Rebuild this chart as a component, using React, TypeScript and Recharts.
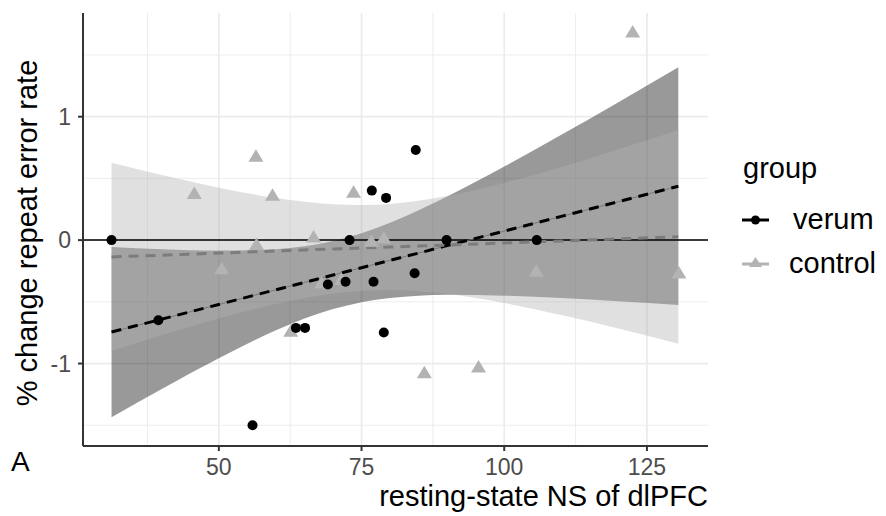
import React from 'react';
import { ComposedChart, Area, Line, Scatter, XAxis, YAxis, CartesianGrid, ReferenceLine } from 'recharts';

// Observed points
const verumX = [31.2, 39.4, 55.9, 63.5, 65.1, 72.9, 69.1, 72.2, 77.1, 84.3, 78.9, 89.9, 84.5, 76.8, 79.3, 105.7];
const verumY = [0, -0.649, -1.5, -0.711, -0.711, 0, -0.36, -0.338, -0.338, -0.269, -0.749, 0, 0.73, 0.401, 0.342, 0];

const controlX = [56.5, 45.7, 59.4, 73.6, 122.5, 56.6, 50.5, 62.6, 66.6, 76.7, 78.9, 86.0, 95.5, 105.6, 130.6, 68.0, 71.5];
const controlY = [0.679, 0.377, 0.363, 0.387, 1.686, -0.036, -0.233, -0.738, 0.026, -0.01, 0.018, -1.075, -1.027, -0.253, -0.266, -0.347, -0.32];

// Smoother (linear fit + confidence band)
const bandX = [31.2, 40, 50, 60, 65, 70, 75, 80, 85, 90, 100, 110, 120, 130.5];
const verumFit = [-0.745, -0.64, -0.521, -0.402, -0.343, -0.283, -0.224, -0.164, -0.105, -0.045, 0.073, 0.192, 0.311, 0.437];
const verumUpper = [-0.055, -0.074, -0.085, -0.073, -0.05, -0.008, 0.056, 0.14, 0.241, 0.353, 0.596, 0.853, 1.117, 1.4];
const verumLower = [-1.435, -1.206, -0.957, -0.731, -0.636, -0.559, -0.503, -0.468, -0.45, -0.443, -0.45, -0.469, -0.495, -0.526];
const controlFit = [-0.136, -0.122, -0.105, -0.088, -0.08, -0.072, -0.064, -0.056, -0.048, -0.04, -0.023, -0.007, 0.01, 0.027];
const controlUpper = [0.627, 0.527, 0.425, 0.341, 0.31, 0.29, 0.284, 0.293, 0.318, 0.357, 0.463, 0.593, 0.736, 0.893];
const controlLower = [-0.899, -0.771, -0.635, -0.517, -0.47, -0.434, -0.412, -0.405, -0.414, -0.437, -0.509, -0.607, -0.716, -0.839];

const xTicks = [50, 75, 100, 125];
const xMinor = [37.5, 62.5, 87.5, 112.5];
const yTicks = [-1, 0, 1];
const yMinor = [-1.5, -0.5, 0.5, 1.5];

const bandData = bandX.map((x, i) => ({
  x,
  verumBand: [verumLower[i], verumUpper[i]],
  controlBand: [controlLower[i], controlUpper[i]],
  verumFit: verumFit[i],
  controlFit: controlFit[i],
}));
const verumPts = verumX.map((x, i) => ({ x, y: verumY[i] }));
const controlPts = controlX.map((x, i) => ({ x, y: controlY[i] }));

const FONT = '"Liberation Sans", Arial, Helvetica, sans-serif';

const Dot = (p: any) => <circle cx={p.cx} cy={p.cy} r={5} fill="#000" />;
const Tri = (p: any) => {
  const cx = p.cx, cy = p.cy;
  return <polygon points={`${cx},${cy - 7} ${cx - 7.5},${cy + 5.5} ${cx + 7.5},${cy + 5.5}`} fill="#b3b3b3" />;
};

export default function App() {
  return (
    <div style={{ position: 'absolute', left: 0, top: 0, width: 886, height: 516, background: '#fff' }}>
      <ComposedChart
        width={886}
        height={516}
        data={bandData}
        margin={{ top: 13, right: 178, bottom: 0, left: 0 }}
      >
        <CartesianGrid
          stroke="#ebebeb"
          strokeWidth={0.9}
          verticalValues={xMinor}
          horizontalValues={yMinor}
        />
        <CartesianGrid
          stroke="#ebebeb"
          strokeWidth={1.7}
          verticalValues={xTicks}
          horizontalValues={yTicks}
        />
        <XAxis
          type="number"
          dataKey="x"
          domain={[26.2, 135.7]}
          ticks={xTicks}
          allowDataOverflow
          height={70}
          tickSize={5}
          tickMargin={8}
          axisLine={{ stroke: '#333', strokeWidth: 2 }}
          tickLine={{ stroke: '#333', strokeWidth: 2 }}
          tick={{ fill: '#4d4d4d', fontSize: 23, fontFamily: FONT }}
        />
        <YAxis
          type="number"
          domain={[-1.668, 1.84]}
          ticks={yTicks}
          allowDataOverflow
          width={83}
          tickSize={5}
          tickMargin={7}
          axisLine={{ stroke: '#333', strokeWidth: 2 }}
          tickLine={{ stroke: '#333', strokeWidth: 2 }}
          tick={{ fill: '#4d4d4d', fontSize: 23, fontFamily: FONT }}
        />
        <Area
          dataKey="verumBand"
          type="monotone"
          stroke="none"
          fill="#000"
          fillOpacity={0.4}
          dot={false}
          activeDot={false}
          isAnimationActive={false}
        />
        <Area
          dataKey="controlBand"
          type="monotone"
          stroke="none"
          fill="#b1b1b1"
          fillOpacity={0.4}
          dot={false}
          activeDot={false}
          isAnimationActive={false}
        />
        <ReferenceLine y={0} stroke="#000" strokeWidth={1.5} />
        <Line dataKey="verumFit" type="linear" stroke="#6e6e6e" strokeWidth={0.8} dot={false} activeDot={false} isAnimationActive={false} />
        <Line dataKey="verumFit" type="linear" stroke="#000" strokeWidth={3} strokeDasharray="10 7" dot={false} activeDot={false} isAnimationActive={false} />
        <Line dataKey="controlFit" type="linear" stroke="#7c7c7c" strokeWidth={3} strokeDasharray="10 7" dot={false} activeDot={false} isAnimationActive={false} />
        <Scatter data={controlPts} dataKey="y" shape={Tri} isAnimationActive={false} />
        <Scatter data={verumPts} dataKey="y" shape={Dot} isAnimationActive={false} />
      </ComposedChart>
      <svg width={886} height={516} style={{ position: 'absolute', left: 0, top: 0, pointerEvents: 'none' }}>
        <text x={708} y={506} textAnchor="end" fontFamily={FONT} fontSize={29} fill="#000">resting-state NS of dlPFC</text>
        <text transform="translate(37,233) rotate(-90)" textAnchor="middle" fontFamily={FONT} fontSize={29} fill="#000">% change repeat error rate</text>
        <text x={11} y={471} fontFamily={FONT} fontSize={28} fill="#000">A</text>
        <text x={743} y={178} fontFamily={FONT} fontSize={29} fill="#000">group</text>
        <line x1={742} y1={220} x2={769} y2={220} stroke="#000" strokeWidth={3} />
        <circle cx={755.5} cy={220} r={4.5} fill="#000" />
        <text x={793} y={229} fontFamily={FONT} fontSize={29} fill="#000">verum</text>
        <line x1={742} y1={264} x2={769} y2={264} stroke="#b3b3b3" strokeWidth={3} />
        <polygon points="755.5,257 749,267 762,267" fill="#b3b3b3" />
        <text x={789} y={273} fontFamily={FONT} fontSize={29} fill="#000">control</text>
      </svg>
    </div>
  );
}
